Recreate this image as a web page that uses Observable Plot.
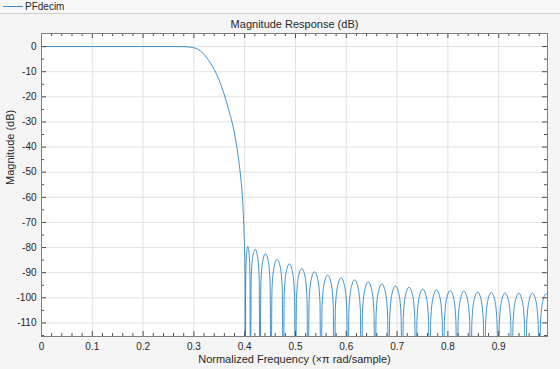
<!DOCTYPE html>
<html><head><meta charset="utf-8">
<script src="https://cdn.jsdelivr.net/npm/d3@7"></script>
<script src="https://cdn.jsdelivr.net/npm/@observablehq/plot@0.6"></script>
<style>
html,body{margin:0;padding:0;background:#f5f5f5;width:560px;height:369px;overflow:hidden;font-family:"Liberation Sans",Arial,Helvetica,sans-serif;}
#legend{height:13px;border-bottom:1px solid #cdcdcd;position:relative;font-size:10px;color:#262626;background:#f8f8f8;}
#legend .sw{position:absolute;left:3px;top:6px;width:20px;height:0;border-top:1px solid #3a8ccf;}
#legend .lb{position:absolute;left:25px;top:0;line-height:13px;}
#chart svg{display:block}
</style></head><body>
<div id="legend"><span class="sw"></span><span class="lb"></span></div>
<div id="chart"></div>
<script>
const seriesName = "PFdecim";
const chartTitle = "Magnitude Response (dB)";
const xLabel = "Normalized Frequency (\u00d7\u03c0 rad/sample)";
const yLabel = "Magnitude (dB)";
const xTicks = [0, 0.1, 0.2, 0.3, 0.4, 0.5, 0.6, 0.7, 0.8, 0.9];
const yTicks = [0, -10, -20, -30, -40, -50, -60, -70, -80, -90, -100, -110];

// Normalized frequency (x pi rad/sample)
const freq = [
  0, 0.1, 0.2, 0.27, 0.28, 0.29, 0.3035, 0.3166, 0.3297, 0.3429, 0.3561, 0.3691, 0.3789, 0.3856, 0.3921, 0.3955, 0.3986, 0.4006, 0.4012,
  0.4020, 0.4037, 0.4062, 0.4087, 0.4104, 0.4112,
  0.4127, 0.4159, 0.4207, 0.4254, 0.4286, 0.4301,
  0.4318, 0.4355, 0.4410, 0.4464, 0.4501, 0.4518,
  0.4537, 0.4578, 0.4639, 0.4699, 0.4740, 0.4759,
  0.4778, 0.4819, 0.4879, 0.4939, 0.4980, 0.4999,
  0.5019, 0.5061, 0.5123, 0.5185, 0.5227, 0.5247,
  0.5267, 0.5311, 0.5375, 0.5438, 0.5482, 0.5502,
  0.5523, 0.5568, 0.5633, 0.5699, 0.5743, 0.5764,
  0.5785, 0.5831, 0.5897, 0.5964, 0.6009, 0.6030,
  0.6051, 0.6097, 0.6164, 0.6231, 0.6277, 0.6298,
  0.6319, 0.6365, 0.6432, 0.6499, 0.6545, 0.6566,
  0.6587, 0.6633, 0.6700, 0.6767, 0.6813, 0.6834,
  0.6855, 0.6901, 0.6967, 0.7034, 0.7079, 0.7100,
  0.7122, 0.7168, 0.7235, 0.7303, 0.7348, 0.7370,
  0.7392, 0.7438, 0.7505, 0.7573, 0.7618, 0.7640,
  0.7662, 0.7708, 0.7775, 0.7843, 0.7888, 0.7910,
  0.7932, 0.7978, 0.8045, 0.8113, 0.8158, 0.8180,
  0.8202, 0.8248, 0.8315, 0.8383, 0.8428, 0.8450,
  0.8472, 0.8518, 0.8585, 0.8653, 0.8698, 0.8720,
  0.8742, 0.8788, 0.8855, 0.8923, 0.8968, 0.8990,
  0.9012, 0.9058, 0.9125, 0.9193, 0.9238, 0.9260,
  0.9282, 0.9328, 0.9395, 0.9463, 0.9508, 0.9530,
  0.9552, 0.9598, 0.9665, 0.9733, 0.9778, 0.9800,
  0.9822, 0.9868, 0.9935, 0.9961
];
// Magnitude (dB) (nulls fall far below the axis)
const magnitudeDb = [
  0, 0, 0, 0, -0.02, -0.15, -0.7, -2.4, -5.7, -10.3, -16.9, -25.6, -33.5, -41.5, -52, -60, -73.3, -90, -150,
  -91.6, -82.6, -79.6, -82.6, -91.6, -150,
  -92.7, -83.7, -80.7, -83.7, -92.7, -150,
  -94.5, -85.5, -82.5, -85.5, -94.5, -150,
  -96.7, -87.7, -84.7, -87.7, -96.7, -150,
  -98.5, -89.5, -86.5, -89.5, -98.5, -150,
  -100.3, -91.3, -88.3, -91.3, -100.3, -150,
  -101.6, -92.6, -89.6, -92.6, -101.6, -150,
  -103, -94, -91, -94, -103, -150,
  -104.1, -95.1, -92.1, -95.1, -104.1, -150,
  -104.9, -95.9, -92.9, -95.9, -104.9, -150,
  -105.7, -96.7, -93.7, -96.7, -105.7, -150,
  -106.5, -97.5, -94.5, -97.5, -106.5, -150,
  -107.3, -98.3, -95.3, -98.3, -107.3, -150,
  -107.8, -98.8, -95.8, -98.8, -107.8, -150,
  -108.5, -99.5, -96.5, -99.5, -108.5, -150,
  -108.9, -99.9, -96.9, -99.9, -108.9, -150,
  -109.1, -100.1, -97.1, -100.1, -109.1, -150,
  -109.4, -100.4, -97.4, -100.4, -109.4, -150,
  -109.7, -100.7, -97.7, -100.7, -109.7, -150,
  -109.9, -100.9, -97.9, -100.9, -109.9, -150,
  -110.1, -101.1, -98.1, -101.1, -110.1, -150,
  -110.2, -101.2, -98.2, -101.2, -110.2, -150,
  -110.2, -101.2, -98.2, -101.2, -110.2, -150,
  -110.4, -101.4, -98.4, -98.9
];

document.querySelector("#legend .lb").textContent = seriesName;

const W = 560, H = 355, mL = 41, mR = 13, mT = 19, mB = 33;
const xDomain = [0, 0.9961], yDomain = [-115.4, 5.2];
const pxX = (W - mL - mR) / (xDomain[1] - xDomain[0]);
const pxY = (H - mT - mB) / (yDomain[1] - yDomain[0]);
const rows = freq.map((f, i) => ({f, db: magnitudeDb[i]}));
const xMinor = d3.range(1, 50).map(i => i * 0.02).filter(v => Math.abs(v * 10 - Math.round(v * 10)) > 1e-6 && v <= xDomain[1]);
const yMinor = d3.range(0, 12).map(i => -5 - 10 * i).filter(v => v >= yDomain[0]);
const tickColor = "#4d4d4d";
const MAJ = 5, MIN = 3;
const xTickRules = (vals, len) => [
  Plot.ruleX(vals, {x: d => d, y1: yDomain[0], y2: yDomain[0] + len / pxY, stroke: tickColor, strokeWidth: 1}),
  Plot.ruleX(vals, {x: d => d, y1: yDomain[1], y2: yDomain[1] - len / pxY, stroke: tickColor, strokeWidth: 1})
];
const yTickRules = (vals, len) => [
  Plot.ruleY(vals, {y: d => d, x1: xDomain[0], x2: xDomain[0] + len / pxX, stroke: tickColor, strokeWidth: 1}),
  Plot.ruleY(vals, {y: d => d, x1: xDomain[1], x2: xDomain[1] - len / pxX, stroke: tickColor, strokeWidth: 1})
];

const chart = Plot.plot({
  width: W, height: H,
  marginLeft: mL, marginRight: mR, marginTop: mT, marginBottom: mB,
  style: {background: "transparent", fontFamily: "'Liberation Sans', Arial, Helvetica, sans-serif", fontSize: "10px", color: "#262626", overflow: "visible"},
  x: {domain: xDomain},
  y: {domain: yDomain},
  marks: [
    Plot.frame({fill: "white", stroke: null}),
    Plot.gridX(xTicks, {stroke: "#e1e1e1", strokeOpacity: 1}),
    Plot.gridY(yTicks, {stroke: "#e1e1e1", strokeOpacity: 1}),
    Plot.line(rows, {x: "f", y: "db", stroke: "#1f7ec6", strokeWidth: 0.85, curve: "monotone-x", clip: true}),
    ...xTickRules(xTicks, MAJ),
    ...xTickRules(xMinor, MIN),
    ...yTickRules(yTicks, MAJ),
    ...yTickRules(yMinor, MIN),
    Plot.frame({stroke: "#7f7f7f"}),
    Plot.axisX(xTicks, {tickSize: 0, tickPadding: 6, tickFormat: d => String(d), label: null, fontSize: 10, fill: "#262626"}),
    Plot.axisY(yTicks, {tickSize: 0, tickPadding: 5, tickFormat: d => String(d), label: null, fontSize: 10, fill: "#262626"}),
    Plot.text([chartTitle], {frameAnchor: "top", lineAnchor: "middle", dy: -9, fontSize: 11, fill: "#262626"}),
    Plot.text([xLabel], {frameAnchor: "bottom", lineAnchor: "middle", dy: 23, fontSize: 11, fill: "#262626"}),
    Plot.text([yLabel], {frameAnchor: "left", lineAnchor: "middle", dx: -31, rotate: -90, fontSize: 11, fill: "#262626"})
  ]
});
document.getElementById("chart").appendChild(chart);
</script>
</body></html>
